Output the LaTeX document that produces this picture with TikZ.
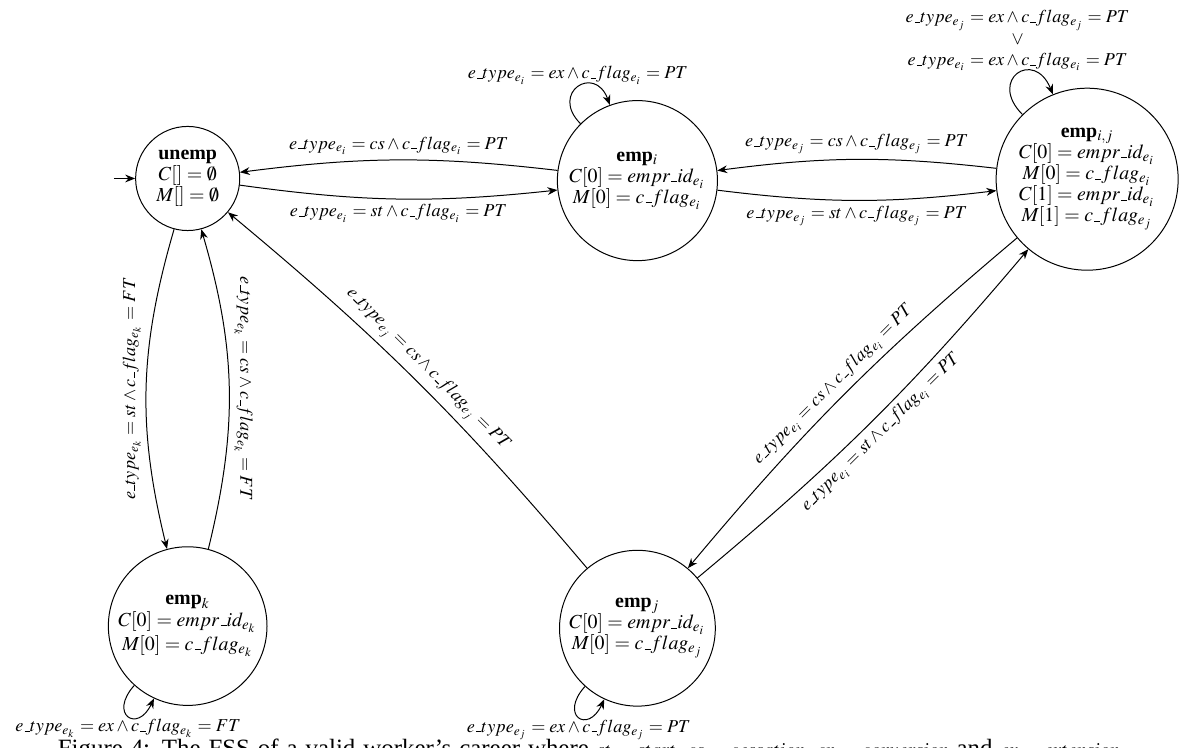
\documentclass[tikz,border=0pt]{standalone}
\usepackage{mathptmx}
\usepackage{fontspec}
\setmainfont{Liberation Serif}
\usetikzlibrary{arrows.meta,positioning}

% short underscore as in the original
\newcommand{\us}{\mbox{\kern.06em\vbox{\hrule width.3em}}}

\begin{document}
\begin{tikzpicture}[
		statenode/.style={
			draw,
			circle,
			align=center,
			inner sep=1pt,
			font=\fontsize{8}{8.5}\selectfont
		},
		line/.style={draw, -{Stealth[length=1.4mm,width=1.1mm]}},
		lbl/.style={
			inner sep=2pt,
			align=center,
			font=\fontsize{7.3}{8.6}\selectfont
		}
		]
		
		\useasboundingbox (0,0) rectangle (17,-10.548);
		
		% States
		\node[statenode, minimum size=1.47cm] (unemp) at (2.65,-2.52)
		{\textbf{unemp}\\$C[]=\emptyset$\\$M[]=\emptyset$};
		
		\node[statenode, minimum size=2.26cm] (empi) at (9.0,-2.55)
		{\textbf{emp}$_i$\\$C[0]=empr\us id_{e_i}$\\$M[0]=c\us flag_{e_i}$};
		
		\node[statenode, minimum size=2.57cm] (empij) at (15.35,-2.53)
		{\textbf{emp}$_{i,j}$\\$C[0]=empr\us id_{e_i}$\\$M[0]=c\us flag_{e_i}$\\$C[1]=empr\us id_{e_i}$\\$M[1]=c\us flag_{e_j}$};
		
		\node[statenode, minimum size=2.24cm] (empk) at (2.65,-8.84)
		{\textbf{emp}$_k$\\$C[0]=empr\us id_{e_k}$\\$M[0]=c\us flag_{e_k}$};
		
		\node[statenode, minimum size=2.2cm] (empj) at (9.0,-8.87)
		{\textbf{emp}$_j$\\$C[0]=empr\us id_{e_i}$\\$M[0]=c\us flag_{e_j}$};
		
		% Initial arrow
		\coordinate[left=0.3cm of unemp] (init);
		\draw[line] (init) -- (unemp);
		
		% unemp <-> emp_i
		\draw[line] (empi) to[bend right=7] node[lbl, above] {$e\us type_{e_i}=cs\wedge c\us flag_{e_i}=PT$} (unemp);
		\draw[line] (unemp) to[bend right=7] node[lbl, below] {$e\us type_{e_i}=st\wedge c\us flag_{e_i}=PT$} (empi);
		
		% emp_i <-> emp_{i,j}
		\draw[line] (empij) to[bend right=7] node[lbl, above] {$e\us type_{e_j}=cs\wedge c\us flag_{e_j}=PT$} (empi);
		\draw[line] (empi) to[bend right=7] node[lbl, below] {$e\us type_{e_j}=st\wedge c\us flag_{e_j}=PT$} (empij);
		
		% unemp <-> emp_k
		\draw[line] (unemp) to[bend right=15] node[lbl, rotate=90, above] {$e\us type_{e_k}=st\wedge c\us flag_{e_k}=FT$} (empk);
		\draw[line] (empk) to[bend right=15] node[lbl, rotate=-90, above] {$e\us type_{e_k}=cs\wedge c\us flag_{e_k}=FT$} (unemp);
		
		% emp_j -> unemp
		\draw[line] (empj) to[bend right=5] node[lbl, sloped, above] {$e\us type_{e_j}=cs\wedge c\us flag_{e_j}=PT$} (unemp);
		
		% emp_{i,j} <-> emp_j
		\draw[line] (empij) to[bend right=5] node[lbl, sloped, above] {$e\us type_{e_i}=cs\wedge c\us flag_{e_i}=PT$} (empj);
		\draw[line] (empj) to[bend right=5] node[lbl, sloped, below] {$e\us type_{e_i}=st\wedge c\us flag_{e_i}=PT$} (empij);
		
		% Self loops
		\draw[line] (empi) to[out=135, in=110, distance=0.62cm] node[lbl, above, inner sep=1pt] {$e\us type_{e_i}=ex\wedge c\us flag_{e_i}=PT$} (empi);
		\draw[line] (empij) to[out=135, in=112, distance=0.7cm] node[lbl, above, inner sep=1pt]
		{$e\us type_{e_j}=ex\wedge c\us flag_{e_j}=PT$\\$\vee$\\$e\us type_{e_i}=ex\wedge c\us flag_{e_i}=PT$} (empij);
		\draw[line] (empk) to[out=228, in=245, distance=0.55cm] node[lbl, below, inner sep=1pt] {$e\us type_{e_k}=ex\wedge c\us flag_{e_k}=FT$} (empk);
		\draw[line] (empj) to[out=228, in=245, distance=0.55cm] node[lbl, below, inner sep=1pt] {$e\us type_{e_j}=ex\wedge c\us flag_{e_j}=PT$} (empj);
		
		% Caption
		\node[anchor=north west, inner sep=0pt, font=\fontsize{10}{12}\selectfont] (caption) at (0.81,-10.42)
		{\makebox[15.08cm][s]{Figure 4: The FSS of a valid worker's career where {\fontsize{8}{10}\selectfont$st=start$, $cs=cessation$, $cn=conversion$} and {\fontsize{8}{10}\selectfont$ex=extension$}.}};
		
	\end{tikzpicture}
\end{document}
